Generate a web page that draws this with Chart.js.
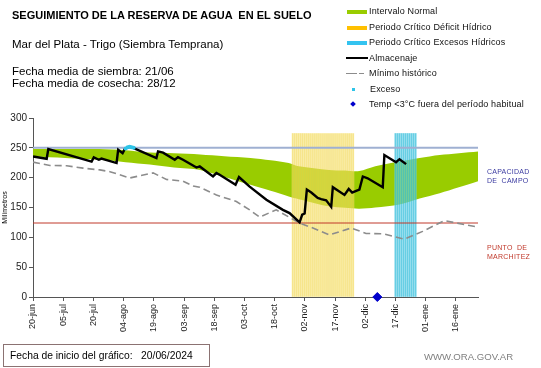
<!DOCTYPE html>
<html>
<head>
<meta charset="utf-8">
<script src="https://cdn.jsdelivr.net/npm/chart.js@4"></script>
<style>
  html,body{margin:0;padding:0;background:#fff;}
  #wrap{position:relative;width:541px;height:368px;overflow:hidden;background:#fff;font-family:"Liberation Sans",Arial,sans-serif;}
  #c{position:absolute;left:0;top:0;}
  .t{position:absolute;white-space:pre;color:#000;}
  .lg{position:absolute;font-size:9px;line-height:9px;letter-spacing:0.15px;white-space:pre;color:#111;}
  .sw{position:absolute;}
</style>
</head>
<body>
<div id="wrap">
  <canvas id="c" width="541" height="368"></canvas>
  <div class="t" style="left:12px;top:10px;font-size:11px;line-height:11px;font-weight:bold;">SEGUIMIENTO DE LA RESERVA DE AGUA  EN EL SUELO</div>
  <div class="t" style="left:12px;top:39px;font-size:11.5px;line-height:11.5px;">Mar del Plata - Trigo (Siembra Temprana)</div>
  <div class="t" style="left:12px;top:65px;font-size:11.5px;line-height:12px;">Fecha media de siembra: 21/06
Fecha media de cosecha: 28/12</div>

  <!-- legend -->
  <div class="sw" style="left:347px;top:10px;width:20px;height:4px;background:#99cc00;"></div>
  <div class="lg" style="left:369px;top:7px;">Intervalo Normal</div>
  <div class="sw" style="left:347px;top:26px;width:20px;height:4px;background:#ffc000;"></div>
  <div class="lg" style="left:369px;top:23px;">Periodo Crítico Déficit Hídrico</div>
  <div class="sw" style="left:347px;top:41px;width:20px;height:4px;background:#33c3f0;"></div>
  <div class="lg" style="left:369px;top:38px;">Periodo Crítico Excesos Hídricos</div>
  <div class="sw" style="left:346px;top:57px;width:22px;height:2px;background:#000;"></div>
  <div class="lg" style="left:369px;top:54px;">Almacenaje</div>
  <div class="sw" style="left:346px;top:72.5px;width:11px;height:1.5px;background:#8c8c8c;"></div>
  <div class="sw" style="left:359px;top:72.5px;width:5px;height:1.5px;background:#8c8c8c;"></div>
  <div class="lg" style="left:369px;top:69px;">Mínimo histórico</div>
  <div class="sw" style="left:352px;top:87.5px;width:3px;height:3px;background:#2ec4e8;"></div>
  <div class="lg" style="left:370px;top:85px;">Exceso</div>
  <div class="sw" style="left:351px;top:101.5px;width:4px;height:4px;background:#0000cc;transform:rotate(45deg);"></div>
  <div class="lg" style="left:369px;top:100px;">Temp &lt;3°C fuera del período habitual</div>

  <!-- right side labels -->
  <div class="t" style="left:487px;top:166.5px;font-size:7px;line-height:9px;letter-spacing:0.25px;color:#3a3aa0;">CAPACIDAD
DE  CAMPO</div>
  <div class="t" style="left:487px;top:243px;font-size:7px;line-height:9px;letter-spacing:0.25px;color:#c0392b;">PUNTO  DE
MARCHITEZ</div>

  <!-- footer -->
  <div class="t" style="left:3px;top:344px;width:205px;height:21px;border:1px solid #8b7272;"></div>
  <div class="t" style="left:10px;top:349.5px;font-size:10.3px;line-height:11px;">Fecha de inicio del gráfico:   20/06/2024</div>
  <div class="t" style="left:424px;top:352px;font-size:9.6px;line-height:10px;color:#808080;">WWW.ORA.GOV.AR</div>
</div>

<script>
// ---------- data ----------
// x values are days since chart start (20/06/2024)
const tickDays   = [0,15,30,45,60,75,90,105,120,135,150,165,180,195,210];
const tickLabels = ['20-jun','05-jul','20-jul','04-ago','19-ago','03-sep','18-sep','03-oct','18-oct','02-nov','17-nov','02-dic','17-dic','01-ene','16-ene'];

const bandDays  = [0,16,33,46,58,70,83,95,108,118,127,132,147,155,162,170,182,192,202,221];
const bandUpper = [248,248,248,246,242,241,239,236,233,229,224.5,219,213,212,211,219,227,233,238,244];
const bandLower = [236,233,230,226,222,217,213,201,188,178,168.5,164,152,149.5,148,150,155,165,174,194];

const almDays = [0,6.8,7.6,29.1,30.2,32.7,34,41.5,42.3,44.5,45.6,48.1,49.7,61.3,62.1,64.6,70.4,72,74.5,81.2,82.8,89.4,91.1,92.7,100.6,102.3,107.6,115.9,124.1,127.4,132.4,133.7,134.9,136,138.2,141.4,143.1,145.6,148.1,148.9,154.7,156.8,158.5,160.5,162.1,163.8,166.2,173.7,174.5,180.3,182,185.3];
const almVals = [235.5,231.7,248,227,234,230,232,224.5,246.7,241,248,252,250,233,244,242,230,234.5,230,217,218.8,202,207.7,205,188,201,185,163,146,140.7,125,138,140,180,175,166,164,162,151,184,171,181,175,178,180,202,199,184,238,226,231,222.7];

const minDays = [0,8.4,16.7,24.9,33.2,38.2,48.1,59.6,66.3,74.5,79.5,82.8,91.1,101,107.6,112.5,120.8,132.4,139,147.2,158,165.4,173.7,184.4,193.5,204.3,221];
const minVals = [226,220.5,220,216,213,210,199.5,208,197,194,186,184,171,160,146,134,146,124,115.6,104,115.6,106.5,106,97,110,128,117];

const excesoDays = [46,47,48,49,50];
const excesoVals = [249,251,252,251,250];

const deficitDays = [129,130,131,132,133,134,135,136,137,138,139,140,141,142,143,144,145,146,147,148,149,150,151,152,153,154,155,156,157,158,159];
const excesoPeriodDays = [180,181,182,183,184,185,186,187,188,189,190];
const periodTop = 274;

const heladaDays = [171];
const heladaVals = [0];

const capacidadCampo = 250;
const puntoMarchitez = 124;
const xMin = 0, xMax = 221;

// ---------- build ----------
const pts = (xs, ys) => xs.map((x, i) => ({x: x, y: ys[i]}));
const flat = (xs, v) => xs.map(x => ({x: x, y: v}));
const F = '"Liberation Sans", Arial, sans-serif';

new Chart(document.getElementById('c'), {
  data: {
    datasets: [
      { type:'scatter', label:'Temp', data: pts(heladaDays, heladaVals), pointStyle:'rectRot', pointRadius:4.5,
        backgroundColor:'#0000cc', borderColor:'#0000cc', order:0, clip:false },
      { type:'scatter', label:'Exceso', data: pts(excesoDays, excesoVals), pointStyle:'circle', pointRadius:2,
        backgroundColor:'#2ec4e8', borderColor:'#2ec4e8', borderWidth:0, order:1 },
      { type:'line', label:'Almacenaje', data: pts(almDays, almVals), borderColor:'#000', borderWidth:2.4,
        pointRadius:0, tension:0, fill:false, order:2 },
      { type:'line', label:'Mínimo histórico', data: pts(minDays, minVals), borderColor:'#8c8c8c', borderWidth:1.6,
        borderDash:[7,4], pointRadius:0, tension:0, fill:false, order:3 },
      { type:'line', label:'cc', data: flat([xMin,xMax], capacidadCampo), borderColor:'#9fb0d2', borderWidth:2,
        pointRadius:0, fill:false, order:4 },
      { type:'line', label:'pm', data: flat([xMin,xMax], puntoMarchitez), borderColor:'#c0392b', borderWidth:1,
        pointRadius:0, fill:false, order:4 },
      { type:'bar', label:'def lines', data: flat(deficitDays, periodTop), backgroundColor:'rgba(240,212,70,0.55)',
        barThickness:1, grouped:false, order:5 },
      { type:'bar', label:'exc lines', data: flat(excesoPeriodDays, periodTop), backgroundColor:'rgba(50,190,220,0.7)',
        barThickness:1, grouped:false, order:5 },
      { type:'bar', label:'def fill', data: flat(deficitDays, periodTop), backgroundColor:'rgba(252,240,160,0.28)',
        barThickness:2.1, grouped:false, order:6 },
      { type:'bar', label:'exc fill', data: flat(excesoPeriodDays, periodTop), backgroundColor:'rgba(170,230,242,0.3)',
        barThickness:2.1, grouped:false, order:6 },
      { type:'line', label:'upper', data: pts(bandDays, bandUpper), borderWidth:0, pointRadius:0, tension:0.3,
        backgroundColor:'#99cc00', fill:'+1', order:10 },
      { type:'line', label:'lower', data: pts(bandDays, bandLower), borderWidth:0, pointRadius:0, tension:0.3,
        fill:false, order:11 }
    ]
  },
  options: {
    responsive:false, animation:false, devicePixelRatio:1,
    layout:{ padding:{ top:118, left:0, right:63, bottom:31 } },
    plugins:{ legend:{display:false}, tooltip:{enabled:false}, title:{display:false} },
    scales:{
      x:{
        type:'linear', min:xMin, max:xMax, offset:false,
        afterBuildTicks: (ax) => { ax.ticks = tickDays.map(v => ({value:v})); },
        afterFit: (ax) => { ax.height = 40; },
        ticks:{ autoSkip:false, minRotation:90, maxRotation:90, padding:3,
          font:{family:F, size:9}, color:'#222',
          callback:(v) => { const i = tickDays.indexOf(v); return i >= 0 ? tickLabels[i] : ''; } },
        grid:{ drawOnChartArea:false, offset:false, tickLength:4, color:'#555' },
        border:{ display:true, color:'#555', width:1 }
      },
      y:{
        type:'linear', min:0, max:300,
        afterFit: (ax) => { ax.width = 33; },
        ticks:{ stepSize:50, padding:2, font:{family:F, size:10}, color:'#222' },
        grid:{ drawOnChartArea:false, tickLength:4, color:'#555' },
        border:{ display:true, color:'#555', width:1 },
        title:{ display:true, text:'Milímetros', font:{family:F, size:7}, color:'#000', padding:{top:1,bottom:0} }
      }
    }
  }
});
</script>
</body>
</html>
